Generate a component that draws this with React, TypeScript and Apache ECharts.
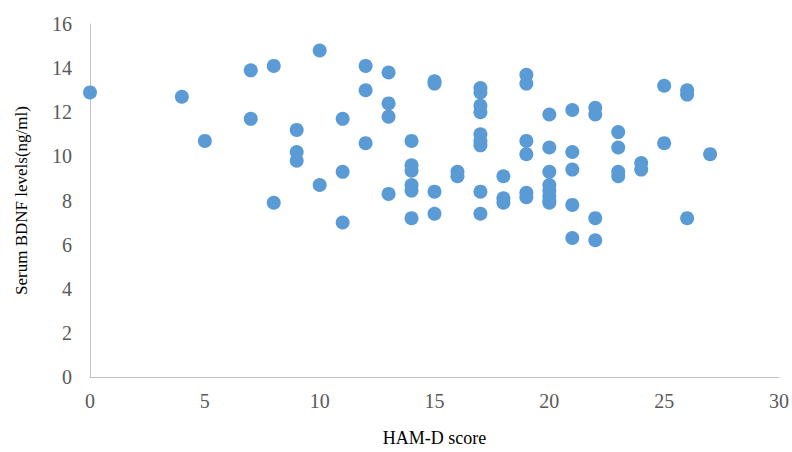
import React, { useEffect, useRef } from "react";
import * as echarts from "echarts";

const xTicks = [0, 5, 10, 15, 20, 25, 30];
const yTicks = [0, 2, 4, 6, 8, 10, 12, 14, 16];

const hamd = [
  0, 4, 5, 7, 7, 8, 8, 9, 9, 9, 10, 10, 11, 11, 11, 12, 12, 12,
  13, 13, 13, 13, 14, 14, 14, 14, 14, 14, 15, 15, 15, 15, 16, 16,
  17, 17, 17, 17, 17, 17, 17, 17, 17, 18, 18, 18, 19, 19, 19, 19, 19, 19,
  20, 20, 20, 20, 20, 20, 20, 20, 21, 21, 21, 21, 21, 22, 22, 22, 22,
  23, 23, 23, 23, 24, 24, 25, 25, 26, 26, 26, 27,
];
const bdnf = [
  12.9, 12.7, 10.7, 13.9, 11.7, 14.1, 7.9, 11.2, 10.2, 9.8, 14.8, 8.7, 11.7, 9.3, 7.0, 14.1, 13.0, 10.6,
  13.8, 12.4, 11.8, 8.3, 10.7, 9.6, 9.35, 8.7, 8.45, 7.2, 13.4, 13.3, 8.4, 7.4, 9.3, 9.1,
  13.1, 12.9, 12.3, 12.0, 11.0, 10.7, 10.5, 8.4, 7.4, 9.1, 8.1, 7.9, 13.7, 13.3, 10.7, 10.1, 8.35, 8.15,
  11.9, 10.4, 9.3, 8.7, 8.45, 8.2, 8.0, 7.9, 12.1, 10.2, 9.4, 7.8, 6.3, 12.2, 11.9, 7.2, 6.2,
  11.1, 10.4, 9.3, 9.1, 9.7, 9.4, 13.2, 10.6, 13.0, 12.8, 7.2, 10.1,
];

export default function App() {
  const ref = useRef<HTMLDivElement>(null);
  useEffect(() => {
    if (!ref.current) return;
    const chart = echarts.init(ref.current, null, { renderer: "svg" });
    const data = hamd.map((x, i) => [x, bdnf[i]]);
    const font = "'Liberation Serif', 'Times New Roman', serif";
    chart.setOption({
      animation: false,
      backgroundColor: "#ffffff",
      grid: { left: 90, right: 13, top: 24, bottom: 71, containLabel: false },
      xAxis: {
        type: "value",
        min: xTicks[0],
        max: xTicks[xTicks.length - 1],
        interval: 5,
        name: "HAM-D score",
        nameLocation: "middle",
        nameGap: 52,
        nameTextStyle: { fontFamily: font, fontSize: 18, color: "#000000" },
        axisLine: { show: true, lineStyle: { color: "#BFBFBF", width: 1 } },
        axisTick: { show: false },
        splitLine: { show: false },
        axisLabel: { fontFamily: font, fontSize: 20, color: "#595959", margin: 14 },
      },
      yAxis: {
        type: "value",
        min: yTicks[0],
        max: yTicks[yTicks.length - 1],
        interval: 2,
        name: "Serum BDNF levels(ng/ml)",
        nameLocation: "middle",
        nameGap: 60,
        nameTextStyle: { fontFamily: font, fontSize: 17, color: "#000000" },
        axisLine: { show: true, lineStyle: { color: "#BFBFBF", width: 1 } },
        axisTick: { show: false },
        splitLine: { show: false },
        axisLabel: { fontFamily: font, fontSize: 20, color: "#595959", margin: 18 },
      },
      series: [
        {
          type: "scatter",
          data,
          symbol: "circle",
          symbolSize: 14,
          itemStyle: { color: "#5B9BD5", opacity: 1 },
        },
      ],
    });
    return () => chart.dispose();
  }, []);
  return <div ref={ref} style={{ width: 792, height: 452, position: "absolute", left: 0, top: 0 }} />;
}
